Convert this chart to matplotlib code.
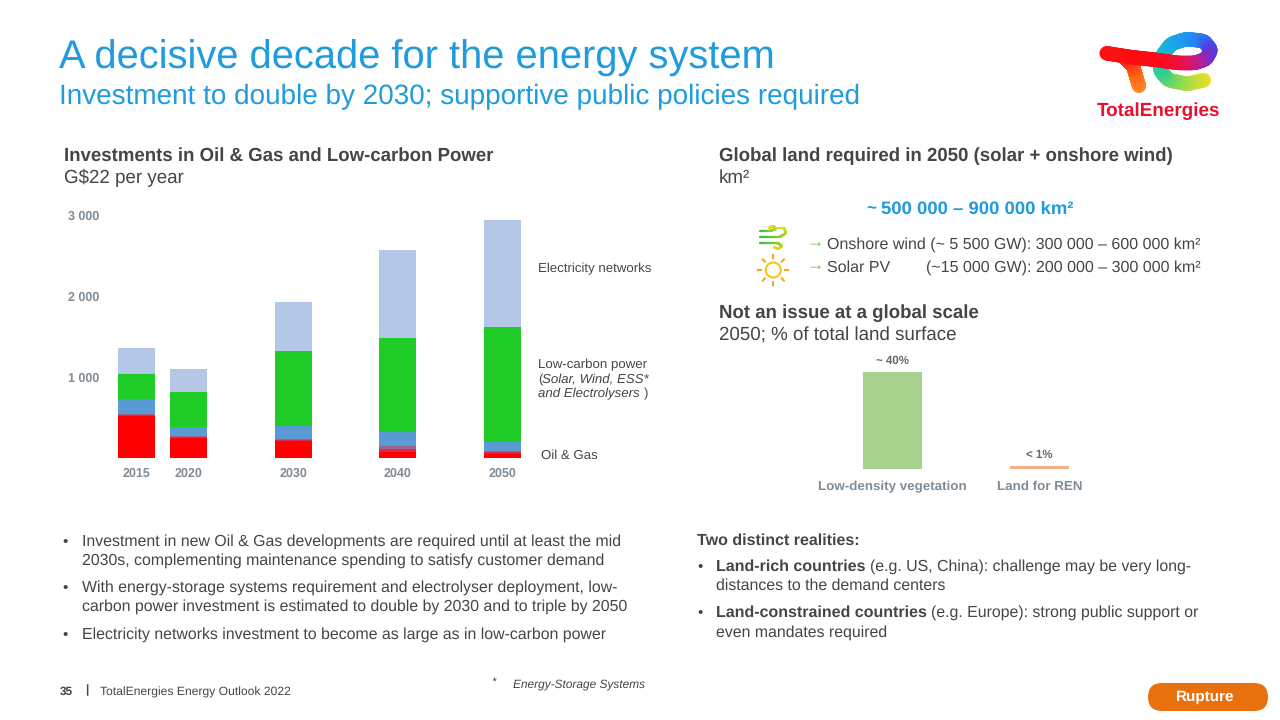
import numpy as np
import matplotlib
matplotlib.use("Agg")
import matplotlib.pyplot as plt
from matplotlib.patches import FancyBboxPatch, Circle
from matplotlib.collections import LineCollection
from matplotlib.colors import LinearSegmentedColormap

plt.rcParams['font.family'] = ['Liberation Sans', 'DejaVu Sans']
plt.rcParams['text.hinting'] = 'no_hinting'

# ---- data ----
years = [2015, 2020, 2030, 2040, 2050]
oil_gas_new = [520, 250, 215, 75, 55]
oil_gas_blend_low = [13, 12, 10, 38, 15]
oil_gas_blend_high = [12, 13, 10, 37, 15]
oil_gas_maintenance = [183, 111, 164, 171, 109]
low_carbon = [312, 425, 922, 1160, 1427]
networks = [318, 288, 605, 1091, 1317]
y_ticks = [1000, 2000, 3000]
y_labels = ['1 000', '2 000', '3 000']
land_categories = ['Low-density vegetation', 'Land for REN']
land_values = [40, 1]
land_labels = ['~ 40%', '< 1%']

W, H = 1280, 720
fig = plt.figure(figsize=(12.8, 7.2), dpi=100, facecolor='white')

def axes_px(x0, y0, x1, y1):
    return fig.add_axes([x0 / W, 1 - y1 / H, (x1 - x0) / W, (y1 - y0) / H])

# ---- stacked bars ----
ax = axes_px(100, 205, 530, 458)
px_per_year = 10.45
ax.set_xlim(2015 - 36.5 / px_per_year, 2015 + 393.5 / px_per_year)
ax.set_ylim(0, 253 / 0.081)
series = [(oil_gas_new, '#FF0000'), (oil_gas_blend_low, '#D82A45'),
          (oil_gas_blend_high, '#9A6590'), (oil_gas_maintenance, '#5B9BD5'),
          (low_carbon, '#20CC28'), (networks, '#B4C7E7')]
bottom = np.zeros(len(years))
for vals, col in series:
    ax.bar(years, vals, width=37 / px_per_year, bottom=bottom, color=col, linewidth=0)
    bottom += np.array(vals)
for s in ax.spines.values():
    s.set_visible(False)
ax.patch.set_alpha(0)
ax.set_xticks(years, [str(y) for y in years])
ax.set_yticks(y_ticks, y_labels)
ax.tick_params(length=0, labelsize=9, labelcolor='#7F8C96', pad=0)
ax.tick_params(axis='x', pad=7)
for t in ax.get_xticklabels() + ax.get_yticklabels():
    t.set_fontweight('bold')
for t in ax.get_yticklabels():
    t.set_ha('left')
    t.set_x(-32 / 430)

# ---- land bars ----
ax2 = axes_px(815, 360, 1095, 468.5)
ax2.set_xlim(-0.525, 1.377)
ax2.set_ylim(0, 108.5 / 2.41)
ax2.bar([0, 1], land_values, width=0.397, color=['#A9D18E', '#F4B183'], linewidth=0)
for s in ax2.spines.values():
    s.set_visible(False)
ax2.patch.set_alpha(0)
ax2.set_yticks([])
ax2.set_xticks([0, 1], land_categories)
ax2.tick_params(length=0, labelsize=9.6, labelcolor='#7F8C96', pad=15.5)
for t in ax2.get_xticklabels():
    t.set_fontweight('bold')
    t.set_va('baseline')
for i, (v, l) in enumerate(zip(land_values, land_labels)):
    ax2.annotate(l, (i, v), xytext=(0, 4), textcoords='offset points', ha='center',
                 va='bottom', fontsize=8.3, fontweight='bold', color='#666666')

# ---- overlay in pixel coordinates ----
ov = fig.add_axes([0, 0, 1, 1], zorder=5)
ov.set_xlim(0, W)
ov.set_ylim(H, 0)
ov.axis('off')

DARK = '#454545'
BLUE = '#1F9BDE'

def T(x, y, s, size=11.5, color=DARK, weight='normal', style='normal', ha='left'):
    ov.text(x, y, s, fontsize=size, color=color, fontweight=weight, fontstyle=style,
            ha=ha, va='center')

T(59, 58, 'A decisive decade for the energy system', 28.7, BLUE)
T(59, 97, 'Investment to double by 2030; supportive public policies required', 20.1, BLUE)

T(64, 156, 'Investments in Oil & Gas and Low-carbon Power', 13.45, DARK, 'bold')
T(64, 178, 'G$22 per year', 13.5)
T(719, 156, 'Global land required in 2050 (solar + onshore wind)', 13.45, DARK, 'bold')
T(719, 178, 'km²', 13.5)

T(538, 269, 'Electricity networks', 9.5)
T(538, 365, 'Low-carbon power', 9.5)
T(538, 380, '(', 9.5)
T(542, 380, 'Solar, Wind, ESS*', 9.5, style='italic')
T(538, 394, 'and Electrolysers', 9.5, style='italic')
T(644, 394, ')', 9.5)
T(541, 456, 'Oil & Gas', 9.5)

T(876, 209, '~', 12.3, BLUE, 'bold', ha='right')
T(881, 209, '500 000 – 900 000 km²', 13.3, BLUE, 'bold')
GREEN = '#6CC24A'
T(806, 242, '→', 12.5, GREEN)
T(806, 265, '→', 12.5, GREEN)
T(827, 245, 'Onshore wind (~ 5 500 GW): 300 000 – 600 000 km²', 11.5)
T(827, 268, 'Solar PV', 11.5)
T(926, 268, '(~15 000 GW): 200 000 – 300 000 km²', 11.5)

T(719, 313, 'Not an issue at a global scale', 13.45, DARK, 'bold')
T(719, 336, '2050; % of total land surface', 13.5)

# bullets left
for y, s in [(542, 'Investment in new Oil & Gas developments are required until at least the mid'),
             (561, '2030s, complementing maintenance spending to satisfy customer demand'),
             (588, 'With energy-storage systems requirement and electrolyser deployment, low-'),
             (607, 'carbon power investment is estimated to double by 2030 and to triple by 2050'),
             (635, 'Electricity networks investment to become as large as in low-carbon power')]:
    T(82, y, s, 11.45)
for y in (542, 588, 635):
    T(62, y, '•', 11)

# bullets right
T(697, 541, 'Two distinct realities:', 11.5, DARK, 'bold')
T(697, 567, '•', 11)
T(697, 613, '•', 11)
T(716, 567, 'Land-rich countries', 11.5, DARK, 'bold')
T(870, 567, '(e.g. US, China): challenge may be very long-', 11.45)
T(716, 586, 'distances to the demand centers', 11.45)
T(716, 613, 'Land-constrained countries', 11.5, DARK, 'bold')
T(931, 613, '(e.g. Europe): strong public support or', 11.45)
T(716, 633, 'even mandates required', 11.45)

# footer
T(60, 692, '35', 8.5, DARK, 'bold')
T(85, 690, '|', 8.5, DARK, 'bold')
T(100, 692, 'TotalEnergies Energy Outlook 2022', 8.7)
T(491, 682, '*', 8.2, style='italic')
T(513, 684, 'Energy-Storage Systems', 8.6, style='italic')

ov.add_patch(FancyBboxPatch((1148, 683), 120, 28, boxstyle='round,pad=0,rounding_size=14',
                            fc='#E8700F', ec='none'))
T(1205, 697, 'Rupture', 11, 'white', 'bold', ha='center')

# ---- logo and icons (decoration) ----
def grad(ctrl, colors, lw, z=6):
    ctrl = np.array(ctrl, float)
    t = np.linspace(0, 1, len(ctrl))
    tt = np.linspace(0, 1, 240)
    xs = np.interp(tt, t, ctrl[:, 0])
    ys = np.interp(tt, t, ctrl[:, 1])
    n = 9 if len(ctrl) > 2 else 1
    k = np.ones(n) / n
    xs = np.convolve(np.pad(xs, n // 2, mode='edge'), k, 'valid')
    ys = np.convolve(np.pad(ys, n // 2, mode='edge'), k, 'valid')
    pts = np.c_[xs, ys].reshape(-1, 1, 2)
    segs = np.concatenate([pts[:-1], pts[1:]], axis=1)
    cm = LinearSegmentedColormap.from_list('g', colors)
    # earlier parts of the stroke stay on top
    lc = LineCollection(segs[::-1], cmap=cm, array=np.linspace(1, 0, len(segs)), linewidths=lw,
                        capstyle='round', zorder=z)
    ov.add_collection(lc)

grad([(1125, 58), (1133, 66), (1136, 76), (1139, 86)], ['#FF2A1A', '#FF6A10', '#FF8A30'], 10)
grad([(1105, 53), (1130, 57), (1157, 60), (1178, 63), (1195, 63), (1206, 59), (1211, 50),
      (1204, 41), (1186, 39), (1171, 44), (1162, 56), (1160, 70), (1168, 80), (1187, 84), (1205, 80)],
     ['#FF1010', '#FF0A10', '#FF0A20', '#E81050', '#B020A0', '#7030D0', '#4A48E8', '#2A80F0',
      '#1E9CF0', '#18B0E0', '#20C8B8', '#30D090', '#70D860', '#B8DC40', '#F0E020'], 10.4)
T(1159, 111, 'TotalEnergies', 13.6, '#E8112D', 'bold', ha='center')

grad([(760, 231), (770, 231), (776, 229), (773, 226), (769, 228)], ['#3CC040', '#90D030', '#C8D820', '#E8D820', '#E8D820'], 1.6)
grad([(760, 237), (780, 237), (786, 233), (784, 228), (778, 228)], ['#3CC040', '#90D030', '#C8D820', '#E8D820', '#E8D820'], 1.6)
grad([(760, 243), (778, 243), (782, 246), (778, 249), (774, 247)], ['#3CC040', '#90D030', '#C8D820', '#E8D820', '#E8D820'], 1.6)
ov.add_patch(Circle((773.3, 270), 7.5, fc='none', ec='#F5C518', lw=1.5, zorder=6))
for a in np.deg2rad(np.arange(0, 360, 45)):
    ov.plot([773.3 + 12 * np.cos(a), 773.3 + 15 * np.cos(a)],
            [270 + 12 * np.sin(a), 270 + 15 * np.sin(a)], color='#F5A623', lw=1.5, zorder=6)

fig.savefig('out.png', dpi=100)
